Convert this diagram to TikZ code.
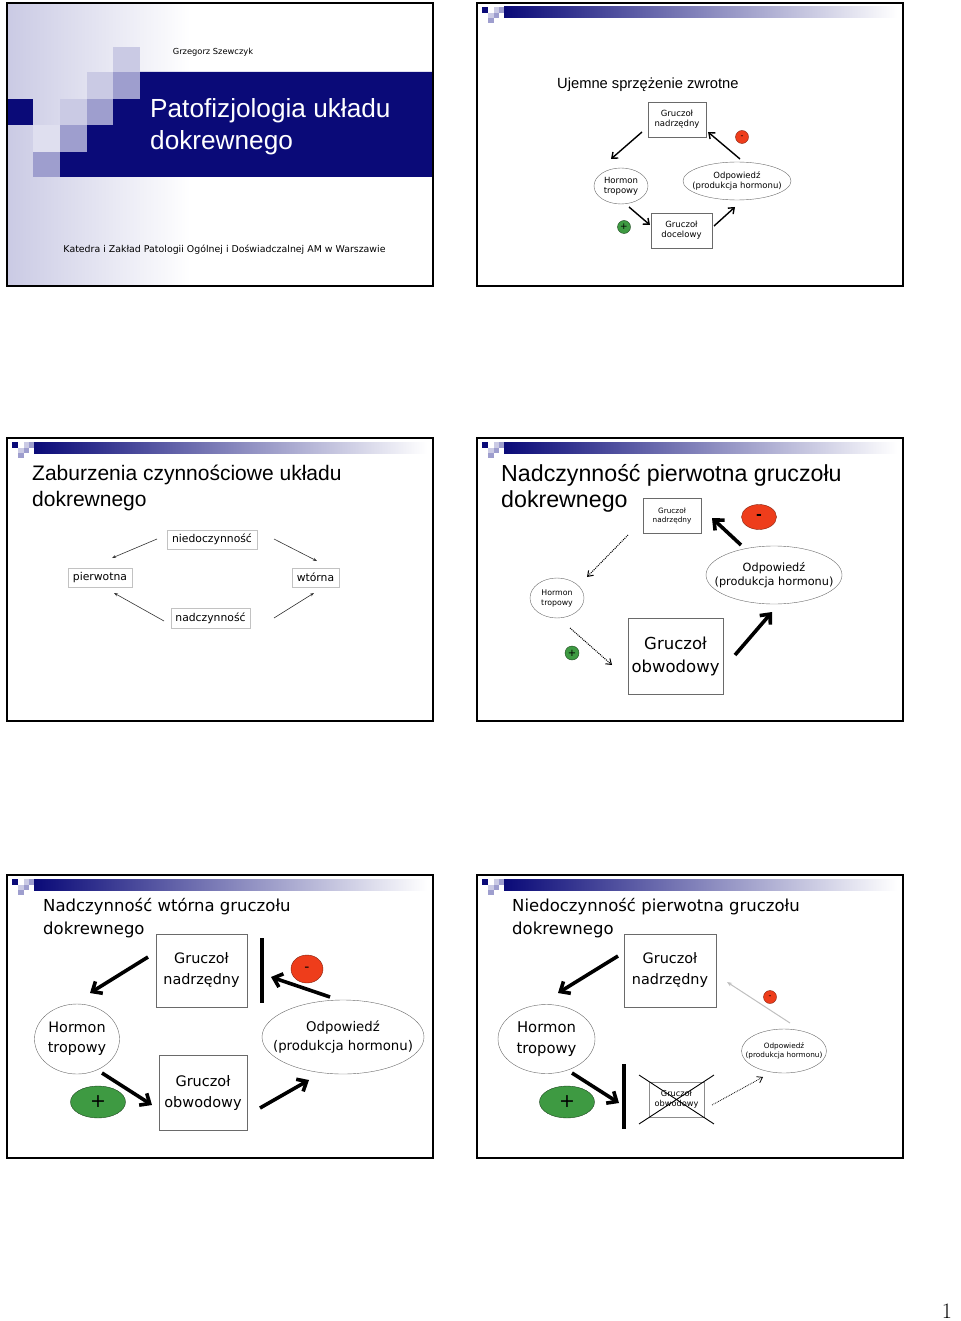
\documentclass[tikz,border=0pt]{standalone}
\usepackage{fontspec}
\setsansfont{Liberation Sans}
\newfontfamily\tahoma{DejaVu Sans}
\usetikzlibrary{arrows.meta, shapes.geometric, shapes.misc, positioning}
\definecolor{navy}{HTML}{0A0A78}
\definecolor{lav}{HTML}{CACAE4}
\definecolor{lavmid}{HTML}{9E9ECE}
\definecolor{cred}{HTML}{EE3D1B}
\definecolor{cgreen}{HTML}{3E9A42}
\definecolor{cline}{HTML}{6A6A6A}
\definecolor{cpale}{HTML}{C2C2C2}
\newcommand{\fs}[2]{\fontsize{#1}{#2}\selectfont}
% header strip of slides 2-6
\newcommand{\slidehead}[1]{%
  \begin{scope}[shift={(#1)}]
    \shade[left color=navy, right color=white] (27,4) rectangle (420,15);
    \fill[navy] (5,4) rectangle (11,10);
    \fill[lav] (17,4) rectangle (22,10);
    \fill[lavmid] (22,4) rectangle (27,10);
    \fill[lav] (11,10) rectangle (17,15);
    \fill[lavmid] (17,10) rectangle (22,15);
    \fill[lavmid] (11,15) rectangle (17,20);
  \end{scope}}

\begin{document}
\begin{tikzpicture}[x=1pt, y=-1pt,
    slide/.style={draw=black, line width=1.8},
    gbox/.style={draw=cline, fill=white, align=center, inner sep=0pt},
    pbox/.style={draw=cpale, fill=white, inner sep=0pt},
    oval/.style={ellipse, draw=cline, fill=white, align=center, inner xsep=-90pt, inner ysep=-50pt},
    minus/.style={ellipse, draw=cred!55!black, fill=cred, inner sep=0pt},
    plus/.style={ellipse, draw=cgreen!45!black, fill=cgreen, inner sep=0pt},
    blockbar/.style={fill=black, inner sep=0pt, minimum width=3.2, minimum height=65},
    fb/.style={-{Straight Barb[length=5pt, width=8pt]}, line width=1.4},
    fat/.style={-{Straight Barb[length=8pt, width=14pt]}, line width=3.6},
    faint/.style={-{Stealth[length=4pt, width=3pt]}, line width=0.6, draw=black!80},
    dots/.style={-{Straight Barb[length=5pt, width=7pt]}, densely dotted, line width=1},
    ttl/.style={anchor=base west, inner sep=0pt, align=left}]
  \useasboundingbox (0,0) rectangle (960,1321);

  % slide 1 background and squares
  \shade[left color=lav, right color=white] (7,3) rectangle (190,286);
  \fill[navy] (140,72) -- (433,72) -- (433,177) -- (60,177) -- (60,152) -- (87,152)
    -- (87,125) -- (113,125) -- (113,99) -- (140,99) -- cycle;
  \fill[navy] (7,99) rectangle (33,125);
  \fill[lav] (113,47) rectangle (140,72);
  \fill[lav] (87,72) rectangle (113,99);
  \fill[lavmid] (113,72) rectangle (140,99);
  \fill[lav] (60,99) rectangle (87,125);
  \fill[lavmid] (87,99) rectangle (113,125);
  \fill[lav!60] (33,125) rectangle (60,152);
  \fill[lavmid] (60,125) rectangle (87,152);
  \fill[lavmid] (33,152) rectangle (60,177);

  \slidehead{477,3}
  \slidehead{7,438}
  \slidehead{477,438}
  \slidehead{7,875}
  \slidehead{477,875}
  \foreach \sx/\sy in {7/3, 477/3, 7/438, 477/438, 7/875, 477/875}
    \draw[slide] (\sx,\sy) rectangle ++(426,283);

  % slide 1 (multi-line titles sit on their last baseline)
  \node[anchor=base, font=\tahoma\fs{8.3}{10}] (author) at (213,54.5) {Grzegorz Szewczyk};
  \node[ttl, text=white, font=\sffamily\fs{26.2}{32}] (t1) at (150,150) {Patofizjologia układu\\dokrewnego};
  \node[anchor=base, font=\tahoma\fs{9.4}{11}] (dept) at (224.5,252.3) {Katedra i Zakład Patologii Ogólnej i Doświadczalnej AM w Warszawie};

  % slide 2
  \node[ttl, font=\sffamily\fs{14.7}{18}] (t2) at (557,89) {Ujemne sprzężenie zwrotne};
  \node[gbox, minimum width=58, minimum height=35, font=\tahoma\fs{8.5}{10}] (nadr2) at (677,119.5) {Gruczoł\\nadrzędny};
  \node[oval, minimum width=54, minimum height=36, font=\tahoma\fs{8.5}{10}] (horm2) at (621,186) {Hormon\\tropowy};
  \node[oval, minimum width=108, minimum height=38, font=\tahoma\fs{8.5}{10}] (odp2) at (737,181) {Odpowiedź\\(produkcja hormonu)};
  \node[gbox, minimum width=61, minimum height=35, font=\tahoma\fs{8.5}{10}] (doc2) at (681.5,230.5) {Gruczoł\\docelowy};
  \node[minus, minimum width=13, minimum height=13, font=\tahoma\fs{8}{8}] (m2) at (742,137) {-};
  \node[plus, minimum width=13, minimum height=13, font=\tahoma\fs{9}{9}] (p2) at (624,227) {+};
  \coordinate (n2out) at (642,132); \coordinate (h2in) at (611,159);
  \coordinate (h2out) at (629,207); \coordinate (d2in) at (650,225);
  \coordinate (d2out) at (714,226); \coordinate (o2in) at (735,207);
  \coordinate (o2out) at (740,159); \coordinate (n2in) at (708,132);
  \draw[fb] (n2out) -- (h2in);
  \draw[fb] (h2out) -- (d2in);
  \draw[fb] (d2out) -- (o2in);
  \draw[fb] (o2out) -- (n2in);

  % slide 3
  \node[ttl, font=\sffamily\fs{21}{26}] (t3) at (32,506.7) {Zaburzenia czynnościowe układu\\dokrewnego};
  \node[pbox, minimum width=90, minimum height=19, font=\tahoma\fs{10.8}{13}] (niedo) at (212,539.5) {niedoczynność};
  \node[pbox, minimum width=64, minimum height=19, font=\tahoma\fs{10.8}{13}] (pierw) at (100,577.5) {pierwotna};
  \node[pbox, minimum width=47, minimum height=19, font=\tahoma\fs{10.8}{13}] (wtor) at (315.5,577.5) {wtórna};
  \node[pbox, minimum width=79, minimum height=20, font=\tahoma\fs{10.8}{13}] (nadcz) at (210.5,618) {nadczynność};
  \coordinate (ni3l) at (157,539); \coordinate (pi3t) at (112,558);
  \coordinate (ni3r) at (274,539); \coordinate (wt3t) at (317,561);
  \coordinate (na3l) at (164,621); \coordinate (pi3b) at (114,593);
  \coordinate (na3r) at (274,618); \coordinate (wt3b) at (314,593);
  \draw[faint] (ni3l) -- (pi3t);
  \draw[faint] (ni3r) -- (wt3t);
  \draw[faint] (na3l) -- (pi3b);
  \draw[faint] (na3r) -- (wt3b);

  % slide 4
  \node[ttl, font=\sffamily\fs{23.2}{26.7}] (t4) at (501,507.7) {Nadczynność pierwotna gruczołu\\dokrewnego};
  \node[gbox, minimum width=58, minimum height=35, font=\tahoma\fs{7.3}{9}] (nadr4) at (672,515.5) {Gruczoł\\nadrzędny};
  \node[minus, minimum width=35, minimum height=25, font=\tahoma\bfseries\fs{14}{14}] (m4) at (759,517) {-};
  \node[oval, minimum width=54, minimum height=40, font=\tahoma\fs{7.8}{10}] (horm4) at (557,598) {Hormon\\tropowy};
  \node[oval, minimum width=136, minimum height=58, font=\tahoma\fs{11.3}{14.3}] (odp4) at (774,575) {Odpowiedź\\(produkcja hormonu)};
  \node[gbox, minimum width=95, minimum height=76, font=\tahoma\fs{16.5}{23}] (obw4) at (675.5,656) {Gruczoł\\obwodowy};
  \node[plus, minimum width=14, minimum height=14, font=\tahoma\fs{10}{10}] (p4) at (572,653) {+};
  \coordinate (n4out) at (628,535); \coordinate (h4in) at (587,577);
  \coordinate (h4out) at (570,628); \coordinate (g4in) at (612,665);
  \coordinate (g4out) at (735,655); \coordinate (o4in) at (772,612);
  \coordinate (o4out) at (741,545); \coordinate (n4in) at (712,518);
  \draw[dots] (n4out) -- (h4in);
  \draw[dots] (h4out) -- (g4in);
  \draw[fat] (g4out) -- (o4in);
  \draw[fat] (o4out) -- (n4in);

  % slide 5
  \node[ttl, font=\tahoma\fs{16.5}{22.6}] (t5) at (43,934.3) {Nadczynność wtórna gruczołu\\dokrewnego};
  \node[gbox, minimum width=91, minimum height=73, font=\tahoma\fs{14.4}{21}] (nadr5) at (201.5,970.5) {Gruczoł\\nadrzędny};
  \node[blockbar] (stop5) at (262,970.5) {};
  \node[minus, minimum width=32, minimum height=28, font=\tahoma\fs{14}{14}] (m5) at (307,969) {-};
  \node[oval, minimum width=85, minimum height=70, font=\tahoma\fs{14.4}{20}] (horm5) at (77,1039) {Hormon\\tropowy};
  \node[oval, minimum width=162, minimum height=74, font=\tahoma\fs{13.3}{19}] (odp5) at (343,1037) {Odpowiedź\\(produkcja hormonu)};
  \node[gbox, minimum width=88, minimum height=75, font=\tahoma\fs{14.5}{21}] (obw5) at (203,1092.5) {Gruczoł\\obwodowy};
  \node[plus, minimum width=55, minimum height=32, font=\tahoma\fs{19}{19}] (p5) at (98,1102) {+};
  \coordinate (n5out) at (148,957); \coordinate (h5in) at (90,993);
  \coordinate (h5out) at (102,1073); \coordinate (g5in) at (152,1105);
  \coordinate (g5out) at (260,1108); \coordinate (o5in) at (309,1080);
  \coordinate (o5out) at (330,997); \coordinate (s5in) at (271,977);
  \draw[fat] (n5out) -- (h5in);
  \draw[fat] (h5out) -- (g5in);
  \draw[fat] (g5out) -- (o5in);
  \draw[fat] (o5out) -- (s5in);

  % slide 6
  \node[ttl, font=\tahoma\fs{16.5}{22.6}] (t6) at (512,934.3) {Niedoczynność pierwotna gruczołu\\dokrewnego};
  \node[gbox, minimum width=92, minimum height=73, font=\tahoma\fs{14.4}{21}] (nadr6) at (670,970.5) {Gruczoł\\nadrzędny};
  \node[oval, minimum width=97, minimum height=69, font=\tahoma\fs{14.8}{21}] (horm6) at (546.5,1039) {Hormon\\tropowy};
  \node[minus, minimum width=13, minimum height=13, font=\tahoma\fs{8}{8}] (m6) at (770,997) {-};
  \node[oval, minimum width=85, minimum height=44, font=\tahoma\fs{7.3}{9.5}] (odp6) at (784,1051) {Odpowiedź\\(produkcja hormonu)};
  \node[plus, minimum width=55, minimum height=32, font=\tahoma\fs{19}{19}] (p6) at (567,1102) {+};
  \node[blockbar] (stop6) at (624,1096.5) {};
  \node[gbox, draw=black!45, minimum width=55, minimum height=35, font=\tahoma\fs{8.2}{10}] (obw6) at (676.5,1099.5) {Gruczoł\\obwodowy};
  \node[cross out, draw=black, line width=0.9, minimum width=74, minimum height=48] (x6) at (obw6.center) {};
  \coordinate (n6out) at (618,956); \coordinate (h6in) at (558,993);
  \coordinate (h6out) at (572,1073); \coordinate (s6in) at (619,1103);
  \coordinate (g6out) at (712,1105); \coordinate (o6in) at (763,1077);
  \coordinate (o6out) at (790,1023); \coordinate (n6in) at (727,982);
  \draw[fat] (n6out) -- (h6in);
  \draw[fat] (h6out) -- (s6in);
  \draw[dots, line width=0.8] (g6out) -- (o6in);
  \draw[-{Stealth[length=5pt, width=4pt]}, line width=1, black!25] (o6out) -- (n6in);

  % page number
  \node[anchor=base, font=\rmfamily\fs{22}{22}] (pg) at (947,1318) {1};
\end{tikzpicture}
\end{document}
